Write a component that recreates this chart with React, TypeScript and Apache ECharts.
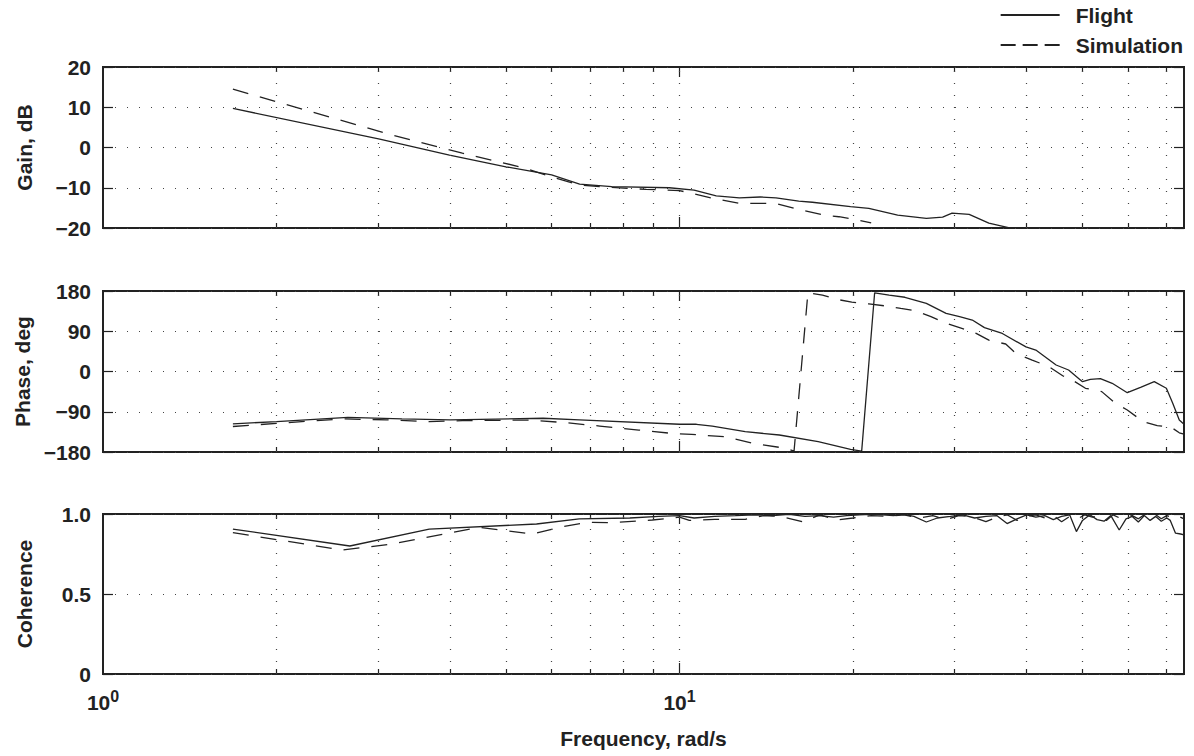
import React, { useEffect, useRef } from 'react';
import * as echarts from 'echarts';

// ---------- data ----------
const gainFlightFreq = [1.68, 3.02, 3.99, 5.0, 6.0, 6.71, 7.63, 9.6, 10.6, 11.58, 12.7, 13.8, 14.7, 16.1, 17.0, 19.8, 21.3, 23.9, 26.8, 28.6, 29.7, 31.8, 34.4, 37.2];
const gainFlight = [9.7, 2.1, -1.9, -4.8, -6.8, -9.1, -9.7, -10.0, -10.6, -12.0, -12.5, -12.3, -12.5, -13.3, -13.6, -14.7, -15.1, -16.8, -17.6, -17.3, -16.3, -16.6, -18.8, -19.9];

const gainSimFreq = [1.68, 3.1, 4.2, 5.39, 6.0, 6.7, 7.6, 8.76, 10.0, 11.4, 12.7, 14.7, 16.1, 17.8, 18.9, 20.2, 21.5];
const gainSim = [14.5, 3.5, -1.4, -5.1, -7.3, -9.3, -9.9, -10.4, -10.7, -12.6, -13.9, -13.9, -15.4, -16.8, -17.2, -17.9, -18.7];

const phaseFlightFreq = [1.68, 2.0, 2.66, 3.3, 4.0, 5.8, 6.7, 10.0, 10.7, 11.4, 13.0, 14.9, 17.4, 19.8, 20.7, 21.8, 23.1, 24.6, 26.8, 29.0, 30.6, 32.2, 33.8, 36.3, 39.9, 41.5, 45.0, 47.3, 50.0, 51.6, 53.7, 56.3, 59.8, 63.2, 66.6, 69.9, 71.7, 73.6, 75.0];
const phaseFlight = [-117, -112, -102.5, -106, -108, -104.5, -108, -118, -118, -122, -134.5, -142, -157, -174, -178, 176, 171, 166, 152.5, 130, 122.5, 115, 98, 85, 55, 48, 14.5, 3.4, -22.7, -17.5, -16, -26.4, -47.4, -35, -22.7, -37.5, -71, -108.5, -118];

const phaseSimFreq = [1.68, 2.0, 2.6, 3.1, 3.68, 4.2, 5.5, 6.36, 7.27, 8.5, 9.72, 10.5, 12.0, 13.4, 15.3, 15.8, 16.7, 17.7, 18.8, 19.9, 21.3, 22.8, 24.2, 25.7, 27.3, 29.0, 30.6, 32.7, 34.4, 36.8, 38.3, 40.9, 43.7, 46.2, 48.0, 50.6, 54.0, 57.0, 59.8, 63.7, 67.4, 71.3, 73.6, 75.0];
const phaseSim = [-123, -116, -106, -108, -112, -110, -108.5, -114.5, -122, -131, -138.5, -140.6, -146, -160.5, -171.8, -178, 176, 171, 161, 155, 151, 146.5, 141, 136, 122.5, 107.7, 98, 85.4, 70, 61.5, 40.5, 25.5, 11, -9.5, -19, -37.5, -45, -71, -86, -112, -121, -125, -137, -140];

const cohFlightFreq = [1.68, 2.68, 3.68, 5.65, 6.7, 8.2, 9.2, 10.0, 10.6, 11.5, 12.5, 13.5, 14.5, 15.5, 16.5, 17.5, 18.5, 19.5, 20.5, 21.5, 22.5, 23.5, 24.5, 25.5, 26.8, 28.0, 29.5, 31.0, 32.5, 34.0, 35.5, 37.0, 38.5, 40.0, 41.5, 43.0, 44.5, 46.0, 47.5, 48.8, 50.0, 51.5, 53.0, 54.5, 56.0, 57.9, 59.5, 61.0, 62.5, 64.0, 65.5, 67.0, 68.5, 70.0, 71.0, 72.5, 74.0, 75.0];
const cohFlight = [0.906, 0.8, 0.906, 0.9375, 0.969, 0.975, 0.985, 0.99, 0.975, 0.985, 0.99, 0.995, 0.99, 0.998, 0.985, 0.99, 0.98, 0.99, 0.995, 0.998, 0.995, 0.99, 0.998, 0.985, 0.95, 0.975, 0.985, 0.995, 0.975, 0.985, 0.99, 0.94, 0.97, 0.995, 0.98, 0.99, 0.965, 0.985, 0.995, 0.89, 0.96, 0.995, 0.965, 0.955, 0.99, 0.9, 0.97, 0.985, 0.95, 0.99, 0.96, 0.985, 0.955, 0.975, 0.96, 0.88, 0.875, 0.87];

const cohSimFreq = [1.68, 2.6, 3.14, 4.5, 5.57, 6.2, 6.9, 7.6, 8.97, 10.0, 10.4, 11.5, 13.0, 14.0, 15.0, 16.4, 17.5, 18.7, 20.0, 21.5, 23.0, 24.5, 26.0, 27.5, 29.0, 30.5, 32.0, 34.0, 35.5, 37.0, 38.5, 40.0, 41.5, 43.0, 44.5, 46.0, 47.5, 49.0, 50.5, 52.0, 53.5, 55.0, 56.5, 58.0, 59.5, 61.0, 62.5, 64.0, 65.5, 67.0, 68.5, 70.0, 71.5, 73.0, 75.0];
const cohSim = [0.883, 0.775, 0.81, 0.917, 0.875, 0.917, 0.948, 0.946, 0.9625, 0.98, 0.96, 0.967, 0.967, 0.99, 0.985, 0.95, 0.995, 0.9625, 0.975, 0.99, 0.985, 0.995, 0.975, 0.99, 0.965, 0.99, 0.985, 0.952, 0.98, 0.995, 0.96, 0.985, 0.995, 0.975, 0.99, 0.952, 0.985, 0.97, 0.995, 0.98, 0.99, 0.96, 0.995, 0.975, 0.985, 0.99, 0.97, 0.995, 0.98, 0.995, 0.97, 0.99, 0.98, 0.99, 0.97];

const xMinorTicks = [2, 3, 4, 5, 6, 7, 8, 9, 20, 30, 40, 50, 60, 70];
const xMajorTicks = [10];
const xLabelTicks = [1, 10];
const xGridLines = [2, 3, 4, 5, 6, 7, 8, 9, 10, 20, 30, 40, 50, 60, 70];

const panelNames = ['Gain, dB', 'Phase, deg', 'Coherence'];
const panelMin = [-20, -180, 0];
const panelMax = [20, 180, 1];
const panelInterval = [10, 90, 0.5];
const legendNames = ['Flight', 'Simulation'];

// ---------- style ----------
const INK = '#222';
const FONT = "'Liberation Sans', Arial, Helvetica, sans-serif";
const FS = 21;
const DOT: any = [1, 11];

function pairs(f: number[], v: number[]) {
  return f.map((x, i) => [x, v[i]]);
}

function fmtY(v: number, gi: number) {
  if (gi === 2) return v === 1 ? '1.0' : String(v);
  return v < 0 ? '\u2212' + Math.abs(v) : String(v);
}

export default function App() {
  const ref = useRef<HTMLDivElement>(null);
  useEffect(() => {
    const chart = echarts.init(ref.current!, null, { renderer: 'svg' });

    const gridBoxes = [
      { top: 67, height: 161 },
      { top: 291, height: 161 },
      { top: 514, height: 160 },
    ];
    const grid = gridBoxes.map((g) => ({
      left: 103, right: 10, top: g.top, height: g.height,
      show: true, borderColor: INK, borderWidth: 2, backgroundColor: 'transparent',
      containLabel: false,
    }));

    const xAxis: any[] = [];
    const yAxis: any[] = [];
    const xBase = (gi: number, position: string, ticks: number[], len: number, extra: any = {}) => ({
      type: 'log', logBase: 10, gridIndex: gi, min: 1, max: 75, position,
      axisLine: { show: false, onZero: false },
      axisTick: { show: true, inside: true, length: len, customValues: ticks, lineStyle: { color: INK, width: 1.2 } },
      axisLabel: { show: false },
      splitLine: { show: false },
      minorTick: { show: false },
      minorSplitLine: { show: false },
      ...extra,
    });
    for (let gi = 0; gi < 3; gi++) {
      const labelled = gi === 2;
      xAxis.push(xBase(gi, 'bottom', xMinorTicks, 5, labelled ? {
        axisLabel: {
          show: true, customValues: xLabelTicks, margin: 14,
          formatter: (v: number) => `{b|10}{s|${Math.round(Math.log10(v))}}`,
          rich: {
            b: { fontSize: FS, fontWeight: 'bold', fontFamily: FONT, color: INK, verticalAlign: 'bottom' },
            s: { fontSize: 16, fontWeight: 'bold', fontFamily: FONT, color: INK, verticalAlign: 'bottom', padding: [0, 0, 9, 0] },
          },
        },
        name: 'Frequency, rad/s', nameLocation: 'middle', nameGap: 54,
        nameTextStyle: { fontSize: FS, fontWeight: 'bold', fontFamily: FONT, color: INK },
      } : {}));
      xAxis.push(xBase(gi, 'top', xMinorTicks, 5));
      xAxis.push(xBase(gi, 'bottom', xMajorTicks, 11));
      xAxis.push(xBase(gi, 'top', xMajorTicks, 10));

      const yCommon = {
        type: 'value', gridIndex: gi, min: panelMin[gi], max: panelMax[gi], interval: panelInterval[gi],
        axisLine: { show: false, onZero: false },
        axisTick: { show: true, inside: true, length: 10, lineStyle: { color: INK, width: 1.2 } },
      };
      yAxis.push({
        ...yCommon, position: 'left',
        axisLabel: {
          show: true, margin: 12, fontSize: FS, fontWeight: 'bold', fontFamily: FONT, color: INK,
          formatter: (v: number) => fmtY(v, gi),
        },
        splitLine: { show: true, lineStyle: { type: DOT, color: '#444', width: 1.2 } },
        name: panelNames[gi], nameLocation: 'middle', nameRotate: 90, nameGap: 68,
        nameTextStyle: { fontSize: FS, fontWeight: 'bold', fontFamily: FONT, color: INK },
      });
      yAxis.push({ ...yCommon, position: 'right', axisLabel: { show: false }, splitLine: { show: false } });
    }

    const mk = (name: string, gi: number, f: number[], v: number[], dashed: boolean, withGrid: boolean) => ({
      type: 'line', name, xAxisIndex: gi * 4, yAxisIndex: gi * 2, data: pairs(f, v),
      showSymbol: false, symbol: 'none', clip: true,
      lineStyle: { color: INK, width: 1.3, type: dashed ? [16, 12] : 'solid' },
      itemStyle: { color: INK },
      emphasis: { disabled: true },
      silent: true,
      z: 3,
      markLine: withGrid ? {
        silent: true, symbol: ['none', 'none'], label: { show: false },
        lineStyle: { type: DOT, color: '#444', width: 1.2 },
        emphasis: { disabled: true },
        data: xGridLines.map((x) => ({ xAxis: x })),
      } : undefined,
    });

    const series = [
      mk(legendNames[0], 0, gainFlightFreq, gainFlight, false, true),
      mk(legendNames[1], 0, gainSimFreq, gainSim, true, false),
      mk(legendNames[0], 1, phaseFlightFreq, phaseFlight, false, true),
      mk(legendNames[1], 1, phaseSimFreq, phaseSim, true, false),
      mk(legendNames[0], 2, cohFlightFreq, cohFlight, false, true),
      mk(legendNames[1], 2, cohSimFreq, cohSim, true, false),
    ];

    chart.setOption({
      animation: false,
      backgroundColor: '#fff',
      textStyle: { fontFamily: FONT },
      grid,
      xAxis,
      yAxis,
      legend: {
        orient: 'vertical', right: 11, top: 4.5, padding: 0,
        itemWidth: 59, itemHeight: 14, itemGap: 9,
        selectedMode: false,
        itemStyle: { opacity: 0 },
        textStyle: { fontSize: FS, fontWeight: 'bold', color: INK, fontFamily: FONT, padding: [0, 0, 0, 11] },
        data: [
          { name: legendNames[0] },
          { name: legendNames[1], lineStyle: { type: [15, 7] } },
        ],
      },
      series,
    } as any);
    return () => chart.dispose();
  }, []);
  return <div ref={ref} style={{ position: 'fixed', left: 0, top: 0, width: 1194, height: 756 }} />;
}
